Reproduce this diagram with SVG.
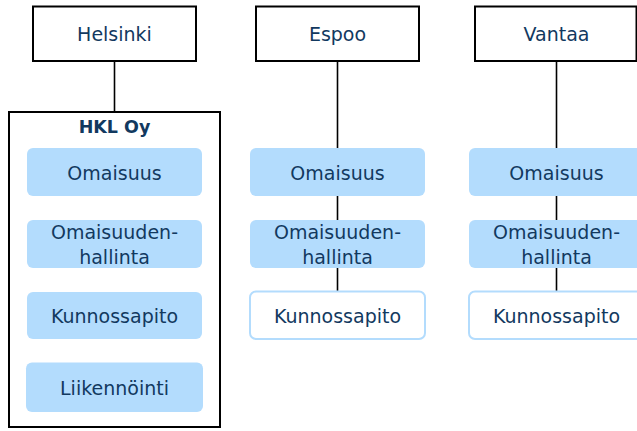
<svg xmlns="http://www.w3.org/2000/svg" width="637" height="431" viewBox="0 0 637 431">
<style>
.city{fill:#fff;stroke:#000;stroke-width:2}
.org{fill:#fff;stroke:#000;stroke-width:2}
.blue{fill:#b3dcfd;stroke:none}
.white{fill:#fff;stroke:#b3dcfd;stroke-width:2}
.t{font-family:"DejaVu Sans",Verdana,sans-serif;font-size:19px;fill:#12395f;text-anchor:middle}
.b{font-weight:bold;font-size:17.5px}
.c{stroke:#000;stroke-width:1.6;fill:none}
</style>
<rect width="637" height="431" fill="#fff"/>
<g id="connectors">
<line class="c" x1="114.5" y1="61" x2="114.5" y2="112"/>
<line class="c" x1="337.5" y1="61" x2="337.5" y2="148"/>
<line class="c" x1="337.5" y1="196" x2="337.5" y2="220"/>
<line class="c" x1="337.5" y1="268" x2="337.5" y2="291"/>
<line class="c" x1="556.5" y1="61" x2="556.5" y2="148"/>
<line class="c" x1="556.5" y1="196" x2="556.5" y2="220"/>
<line class="c" x1="556.5" y1="268" x2="556.5" y2="291"/>
</g>
<g id="helsinki"><rect class="city" x="33" y="6.5" width="163" height="54.5"/><text class="t" x="114.5" y="41">Helsinki</text></g>
<g id="espoo"><rect class="city" x="256" y="6.5" width="163" height="54.5"/><text class="t" x="337.5" y="41">Espoo</text></g>
<g id="vantaa"><rect class="city" x="475" y="6.5" width="161.5" height="54.5"/><text class="t" x="556.5" y="41">Vantaa</text></g>
<g id="hkl"><rect class="org" x="9" y="112" width="211" height="315"/><text class="t b" x="114.5" y="133">HKL Oy</text></g>
<g id="hkl-omaisuus"><rect class="blue" x="27" y="148" width="175" height="48" rx="6"/><text class="t" x="114.5" y="180">Omaisuus</text></g>
<g id="hkl-hallinta"><rect class="blue" x="27" y="220" width="175" height="48" rx="6"/><text class="t" x="114.5" y="239">Omaisuuden-</text><text class="t" x="114.5" y="264">hallinta</text></g>
<g id="hkl-kunnossapito"><rect class="blue" x="27" y="292" width="175" height="47" rx="6"/><text class="t" x="114.5" y="323">Kunnossapito</text></g>
<g id="hkl-liikennointi"><rect class="blue" x="26" y="362.5" width="177" height="49.5" rx="6"/><text class="t" x="114.5" y="395">Liikennöinti</text></g>
<g id="espoo-omaisuus"><rect class="blue" x="250" y="148" width="175" height="48" rx="6"/><text class="t" x="337.5" y="180">Omaisuus</text></g>
<g id="espoo-hallinta"><rect class="blue" x="250" y="220" width="175" height="48" rx="6"/><text class="t" x="337.5" y="239">Omaisuuden-</text><text class="t" x="337.5" y="264">hallinta</text></g>
<g id="espoo-kunnossapito"><rect class="white" x="250" y="291.5" width="175" height="47.5" rx="6"/><text class="t" x="337.5" y="323">Kunnossapito</text></g>
<g id="vantaa-omaisuus"><rect class="blue" x="469" y="148" width="175" height="48" rx="6"/><text class="t" x="556.5" y="180">Omaisuus</text></g>
<g id="vantaa-hallinta"><rect class="blue" x="469" y="220" width="175" height="48" rx="6"/><text class="t" x="556.5" y="239">Omaisuuden-</text><text class="t" x="556.5" y="264">hallinta</text></g>
<g id="vantaa-kunnossapito"><rect class="white" x="469" y="291.5" width="175" height="47.5" rx="6"/><text class="t" x="556.5" y="323">Kunnossapito</text></g>
</svg>
